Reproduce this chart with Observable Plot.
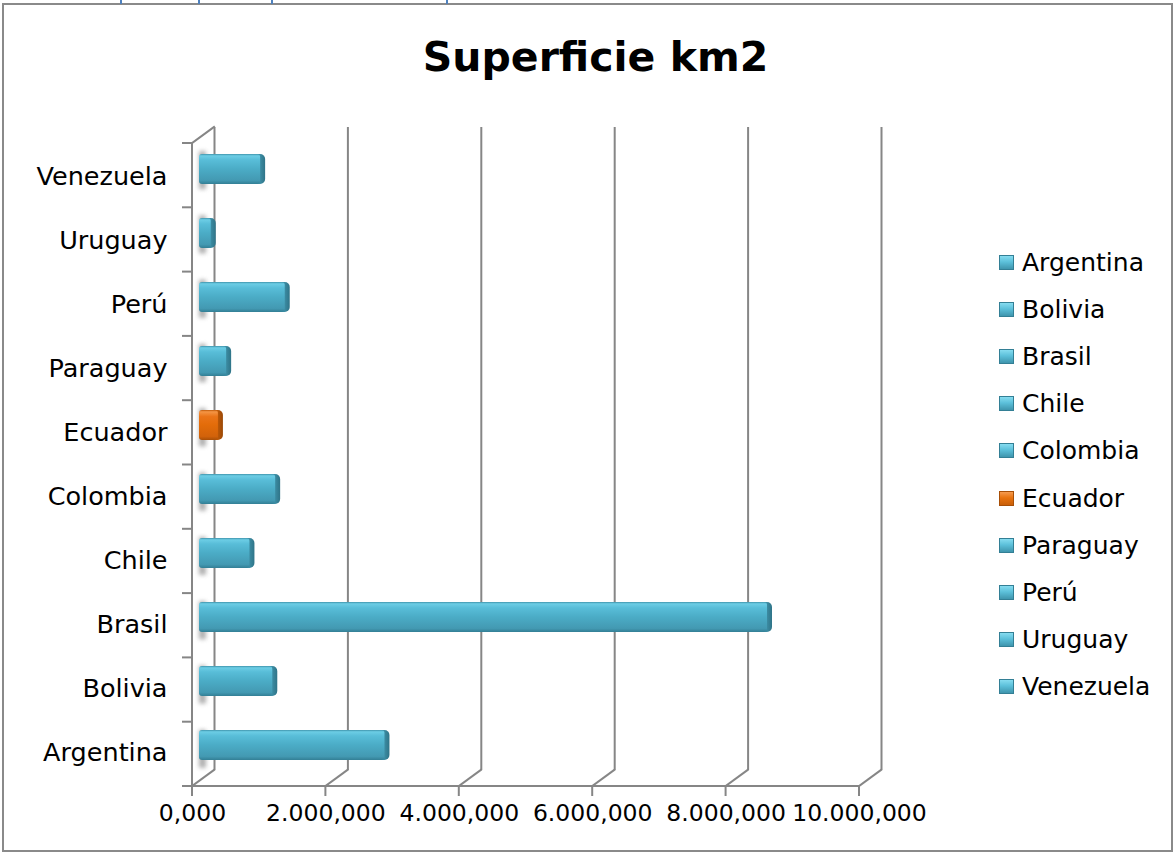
<!DOCTYPE html>
<html>
<head>
<meta charset="utf-8">
<script src="https://cdn.jsdelivr.net/npm/d3@7"></script>
<script src="https://cdn.jsdelivr.net/npm/@observablehq/plot@0.6"></script>
<style>
html, body { margin: 0; padding: 0; background: #fff; }
#wrap { position: relative; width: 1175px; height: 853px; overflow: hidden; font-family: "DejaVu Sans", sans-serif; color: #000; }
#frame { position: absolute; left: 2px; top: 3px; width: 1167px; height: 845px; border: 2px solid #8a8a8a; }
.tab { position: absolute; top: 0; width: 2px; height: 4px; background: #4f81bd; }
#title { position: absolute; left: 8px; width: 1175px; top: 37px; text-align: center; font-weight: bold; font-size: 41px; line-height: 41px; }
#chart { position: absolute; left: 0; top: 0; }
.leg { position: absolute; left: 999px; height: 30px; display: flex; align-items: center; font-size: 25px; white-space: nowrap; }
.sw { width: 15px; height: 15px; margin-right: 8px; box-sizing: border-box; }
</style>
</head>
<body>
<div id="wrap">
  <div id="frame"></div>
  <div class="tab" style="left:120px"></div>
  <div class="tab" style="left:198px"></div>
  <div class="tab" style="left:271px"></div>
  <div class="tab" style="left:446px"></div>
  <div id="title"></div>
  <div id="chart"></div>
  <div id="legend"></div>
</div>
<script>
// ---- data ----
const titleText = "Superficie km2";
const countries = ["Argentina", "Bolivia", "Brasil", "Chile", "Colombia", "Ecuador", "Paraguay", "Perú", "Uruguay", "Venezuela"];
const areas = [2780.4, 1098.6, 8515.8, 756.1, 1141.7, 283.6, 406.8, 1285.2, 176.2, 916.4];
const highlighted = ["Ecuador"];
const xTicks = [0, 2000, 4000, 6000, 8000, 10000];
const xTickLabels = ["0,000", "2.000,000", "4.000,000", "6.000,000", "8.000,000", "10.000,000"];

const data = countries.map((c, i) => ({country: c, area: areas[i], hi: highlighted.includes(c)}));
const blueData = data.filter(d => !d.hi);
const orangeData = data.filter(d => d.hi);

// depth offsets of the 3D look
const DX = 22, DY = -16;     // back wall
const BDX = 7, BDY = -7;     // bars
const GRID = "#868686";

document.getElementById("title").textContent = titleText;

const defsMark = () => {
  const g = d3.create("svg:g");
  const defs = g.append("defs");
  const grad = (id, stops, horiz) => {
    const lg = defs.append("linearGradient").attr("id", id).attr("x1", 0).attr("y1", 0)
      .attr("x2", horiz ? 1 : 0).attr("y2", horiz ? 0 : 1);
    stops.forEach(([o, c]) => lg.append("stop").attr("offset", o).attr("stop-color", c));
  };
  grad("blueGrad", [["0", "#3f93ab"], ["0.06", "#6ccde5"], ["0.2", "#58bdd8"], ["0.5", "#4bacc6"], ["0.88", "#4399b2"], ["1", "#337f95"]]);
  grad("blueCap", [["0", "#4aa9c3"], ["0.45", "#4196ae"], ["1", "#2f7488"]], true);
  grad("orangeGrad", [["0", "#bf5908"], ["0.06", "#f49545"], ["0.22", "#ea7418"], ["0.5", "#e36c09"], ["0.88", "#d2620a"], ["1", "#a84f07"]]);
  grad("orangeCap", [["0", "#e06a09"], ["0.45", "#c95f08"], ["1", "#9a4806"]], true);
  const f = defs.append("filter").attr("id", "blurShadow").attr("x", "-50%").attr("y", "-50%").attr("width", "200%").attr("height", "200%");
  f.append("feGaussianBlur").attr("stdDeviation", 2.2);
  return g.node();
};

const frameMark = (index, scales, values, dims) => {
  const g = d3.create("svg:g");
  const x = scales.x;
  const top = dims.marginTop, bottom = dims.height - dims.marginBottom;
  const n = countries.length;
  const step = (bottom - top) / n;
  const x0 = x(0);
  // wall shadows
  for (let i = 0; i < n; i++) {
    const cy = top + (i + 0.5) * step + BDY;
    g.append("rect").attr("x", x0 + 7).attr("y", cy - 17).attr("width", 7).attr("height", 38)
      .attr("fill", "#7a7a7a").attr("opacity", 0.6).attr("filter", "url(#blurShadow)");
  }
  const line = (x1, y1, x2, y2) => g.append("line").attr("x1", x1).attr("y1", y1).attr("x2", x2).attr("y2", y2)
    .attr("stroke", GRID).attr("stroke-width", 2).attr("stroke-linecap", "square");
  // floor diagonals
  xTicks.forEach(t => line(x(t), bottom, x(t) + DX, bottom + DY));
  // wall top diagonal
  line(x0, top, x0 + DX, top + DY);
  // front vertical axis
  line(x0, top, x0, bottom);
  // front horizontal axis
  line(x0, bottom, x(xTicks[xTicks.length - 1]), bottom);
  // category boundary ticks
  for (let i = 0; i <= n; i++) line(x0 - 9, top + i * step, x0, top + i * step);
  // value ticks
  xTicks.forEach(t => line(x(t), bottom, x(t), bottom + 9));
  return g.node();
};

const chart = Plot.plot({
  width: 1175,
  height: 853,
  marginLeft: 192,
  marginRight: 316,
  marginTop: 143,
  marginBottom: 67,
  style: {background: "transparent", fontFamily: "DejaVu Sans, sans-serif", overflow: "visible", color: "#000"},
  x: {domain: [xTicks[0], xTicks[xTicks.length - 1]], axis: null},
  y: {domain: countries.slice().reverse(), axis: null, paddingInner: 0.53, paddingOuter: 0.265},
  marks: [
    defsMark,
    Plot.ruleX(xTicks, {stroke: GRID, strokeWidth: 2, dx: DX, dy: DY}),
    frameMark,
    Plot.barX(blueData, {x1: "area", x2: "area", y: "country", insetLeft: -8, insetRight: -5, fill: "url(#blueCap)", rx: 5, dx: BDX, dy: BDY}),
    Plot.barX(orangeData, {x1: "area", x2: "area", y: "country", insetLeft: -8, insetRight: -5, fill: "url(#orangeCap)", rx: 5, dx: BDX, dy: BDY}),
    Plot.barX(blueData, {x: "area", y: "country", fill: "url(#blueGrad)", rx: 3, dx: BDX, dy: BDY}),
    Plot.barX(orangeData, {x: "area", y: "country", fill: "url(#orangeGrad)", rx: 3, dx: BDX, dy: BDY}),
    Plot.text(countries, {y: d => d, text: d => d, frameAnchor: "left", textAnchor: "end", dx: -25, fontSize: 25.5, fill: "#000"}),
    Plot.text(xTicks, {x: d => d, text: (d, i) => xTickLabels[i], frameAnchor: "bottom", dy: 34, fontSize: 23.5, fill: "#000"})
  ]
});
document.getElementById("chart").appendChild(chart);

// legend
const legend = document.getElementById("legend");
countries.forEach((c, i) => {
  const row = document.createElement("div");
  row.className = "leg";
  row.style.top = (247 + i * 47.2) + "px";
  const sw = document.createElement("div");
  sw.className = "sw";
  const hi = highlighted.includes(c);
  sw.style.background = hi
    ? "linear-gradient(to bottom, #f59b50 0%, #e8730f 45%, #c95f08 100%)"
    : "linear-gradient(to bottom, #86dcf0 0%, #5cc0da 45%, #3f95ad 100%)";
  sw.style.border = hi ? "1px solid #a84f07" : "1px solid #337f95";
  const tx = document.createElement("span");
  tx.textContent = c;
  row.appendChild(sw);
  row.appendChild(tx);
  legend.appendChild(row);
});
</script>
</body>
</html>
